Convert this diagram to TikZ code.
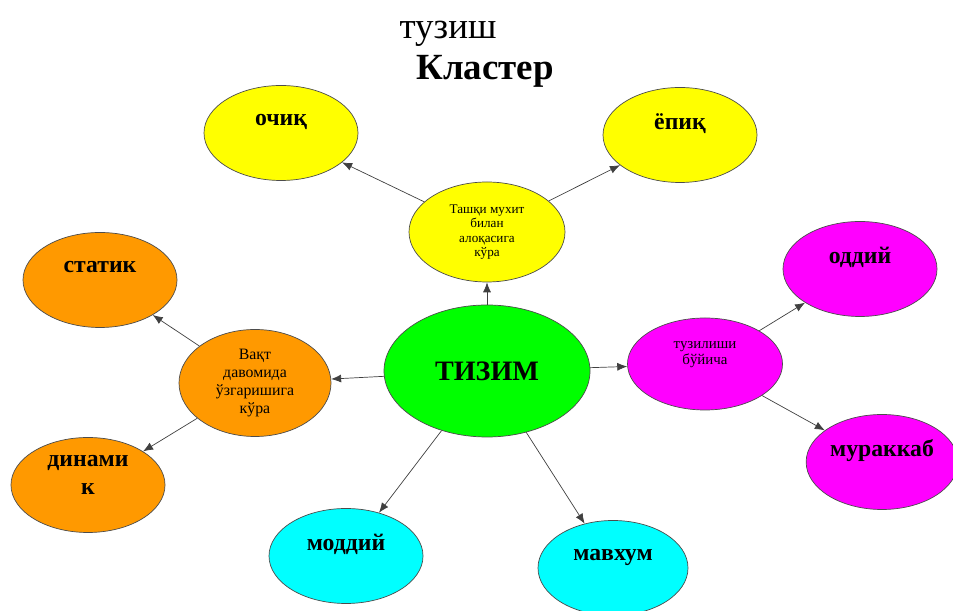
\documentclass[tikz,border=0pt]{standalone}
\usepackage{fontspec}
\setmainfont{Liberation Serif}
\usepackage{xcolor}
\usetikzlibrary{positioning,shapes.geometric,arrows.meta}

\definecolor{yellowfill}{HTML}{FFFF00}
\definecolor{orangefill}{HTML}{FF9900}
\definecolor{greenfill}{HTML}{00FF00}
\definecolor{magentafill}{HTML}{FF00FF}
\definecolor{cyanfill}{HTML}{00FFFF}

\tikzset{
  bubble/.style={ellipse, draw=black!70, thin, inner sep=1pt},
  leaf/.style={bubble, minimum width=3.08cm, minimum height=1.9cm,
    font=\fontsize{13.5}{16}\selectfont\bfseries, text depth=0.54cm},
  branch/.style={bubble, align=center},
  link/.style={-{Latex[length=2mm,width=1.6mm]}, draw=black!75, thin}
}

\begin{document}
\begin{tikzpicture}
  \useasboundingbox (0,0) rectangle (19.06,12.22);

  % Title
  \node (tuzish) at (8.96,11.54) {\fontsize{21}{24}\selectfont тузиш};
  \node (klaster) at (9.70,10.80) {\fontsize{21}{24}\selectfont\bfseries Кластер};

  % Centre
  \node[bubble, fill=greenfill, minimum width=4.12cm, minimum height=2.64cm,
    font=\fontsize{16}{18}\selectfont\bfseries] (tizim) at (9.74,4.80) {ТИЗИМ};

  % Branches
  \node[branch, fill=yellowfill, minimum width=3.12cm, minimum height=2.0cm,
    font=\fontsize{7.5}{8.2}\selectfont] (tashqi) at (9.74,7.58)
    {Ташқи мухит\\билан\\алоқасига\\кўра};
  \node[branch, fill=orangefill, minimum width=3.04cm, minimum height=2.14cm,
    font=\fontsize{9}{10.2}\selectfont] (vaqt) at (5.10,4.56)
    {Вақт\\давомида\\ўзгаришига\\кўра};
  \node[branch, fill=magentafill, minimum width=3.1cm, minimum height=1.84cm,
    font=\fontsize{8.5}{9.2}\selectfont, text depth=0.44cm] (tuzilishi) at (14.10,4.94)
    {тузилиши\\бўйича};

  % Leaves
  \node[leaf, fill=yellowfill] (ochiq) at (5.62,9.56) {очиқ};
  \node[leaf, fill=yellowfill] (yopiq) at (13.60,9.52) {ёпиқ};
  \node[leaf, fill=orangefill] (statik) at (2.00,6.62) {статик};
  \node[leaf, fill=orangefill, align=center, text depth=0.42cm] (dinamik) at (1.76,2.52) {динами\\к};
  \node[leaf, fill=magentafill] (oddiy) at (17.20,6.84) {оддий};
  \node[leaf, fill=magentafill, minimum width=3.0cm] (murakkab) at (17.64,2.98) {мураккаб};
  \node[leaf, fill=cyanfill] (moddiy) at (6.92,1.10) {моддий};
  \node[leaf, fill=cyanfill, minimum width=3.0cm] (mavhum) at (12.26,0.86) {мавхум};

  % Links
  \draw[link] (tizim) -- (tashqi);
  \draw[link] (tashqi) -- (ochiq);
  \draw[link] (tashqi) -- (yopiq);
  \draw[link] (tizim) -- (vaqt);
  \draw[link] (vaqt) -- (statik);
  \draw[link] (vaqt) -- (dinamik);
  \draw[link] (tizim) -- (tuzilishi);
  \draw[link] (tuzilishi) -- (oddiy);
  \draw[link] (tuzilishi) -- (murakkab);
  \draw[link] (tizim) -- (moddiy);
  \draw[link] (tizim) -- (mavhum);
\end{tikzpicture}
\end{document}
